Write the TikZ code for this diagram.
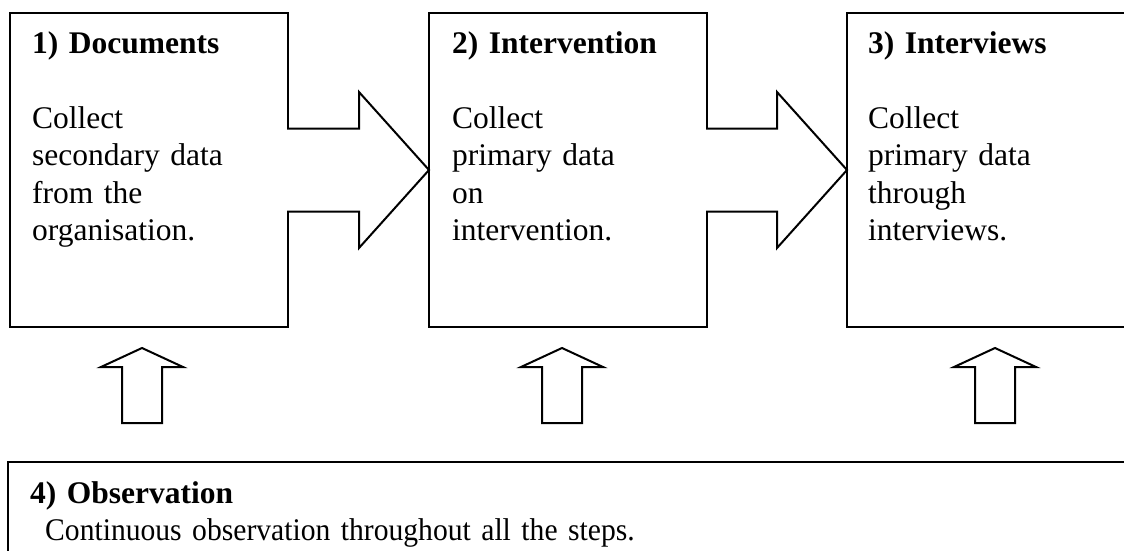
\documentclass[tikz,border=0pt]{standalone}
\usepackage{fontspec}
\setmainfont{Liberation Serif}
\newfontfamily\narrowserif[FakeStretch=0.94]{Liberation Serif}
\usetikzlibrary{positioning}

\begin{document}
\begin{tikzpicture}[x=1pt,y=1pt]
  \useasboundingbox (0,0) rectangle (1124,-551);
  \tikzset{stepbox/.style={rectangle, draw, line width=2pt, outer sep=0pt,
  		minimum width=278pt, minimum height=314pt}, }
  \tikzset{steptext/.style={anchor=base west, inner sep=0pt, align=left,
  		text width=260pt, font=\fontsize{31.5}{37.5}\selectfont}, }
  \tikzset{blockarrow/.style={draw, fill=white, line width=2pt, line join=miter}, }
    \node[stepbox] (doc) at (149,-170) {};
    \node[stepbox] (intv) [right =141pt of doc] {};
    \node[stepbox, minimum width=300pt] (intw) [right =140pt of intv] {};
    \node[stepbox, minimum width=1140pt, minimum height=130pt,
      anchor=north west] (obs) at (8,-462) {};

\foreach \a/\b in {doc/intv,intv/intw}
  \draw[blockarrow] ([shift={(-1,41.5)}]\a.east) -- ([shift={(-70,41.5)}]\b.west)
    -- ([shift={(-70,78)}]\b.west) -- (\b.west) -- ([shift={(-70,-78)}]\b.west)
    -- ([shift={(-70,-41.5)}]\b.west) -- ([shift={(-1,-41.5)}]\a.east);

\foreach \x in {142,562,995}
  \draw[blockarrow] (\x-20,-423) -- (\x-20,-367) -- (\x-41,-367) -- (\x,-348)
    -- (\x+41,-367) -- (\x+20,-367) -- (\x+20,-423) -- cycle;

    \node[steptext] (doctext) at ([shift={(22,-40)}]doc.north west)
      {\textbf{1) Documents}\\[37.5pt]Collect\\secondary data\\from the\\organisation.};
    \node[steptext] (intvtext) at ([shift={(23,-40)}]intv.north west)
      {\textbf{2) Intervention}\\[37.5pt]Collect\\primary data\\on\\intervention.};
    \node[steptext] (intwtext) at ([shift={(21,-40)}]intw.north west)
      {\textbf{3) Interviews}\\[37.5pt]Collect\\primary data\\through\\interviews.};
    \node[steptext, text width=1000pt] (obstext) at ([shift={(22,-41)}]obs.north west)
      {\textbf{4) Observation}\\\hspace*{15pt}{\narrowserif Continuous observation throughout all the steps.}};
%%
\end{tikzpicture}
\end{document}
